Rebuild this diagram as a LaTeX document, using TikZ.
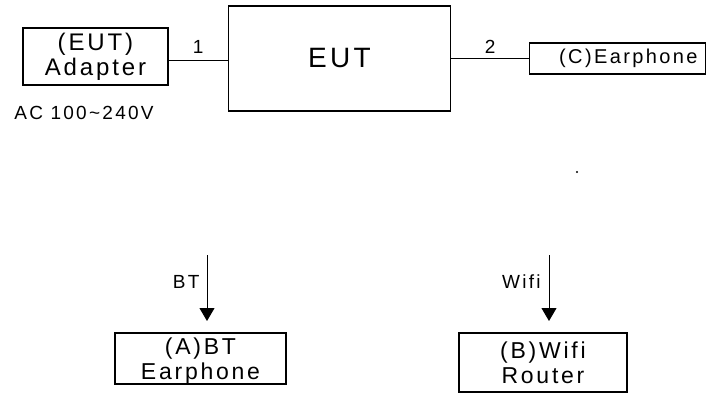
\documentclass[tikz,border=0pt]{standalone}
\usepackage{fontspec}
\setmainfont{Liberation Sans}[LetterSpace=12]
\usetikzlibrary{arrows.meta}

\begin{document}
\begin{tikzpicture}[x=1pt, y=-1pt, >={Triangle[width=15pt,length=13pt]},
  box/.style={draw, line width=1.3pt, inner sep=0pt, align=center},
  wire/.style={line width=0.9pt},
  tag/.style={inner sep=0pt, font=\fontsize{19}{21}\selectfont}]

  \useasboundingbox (0,0) rectangle (706,394);

  % top row
  \node[box, minimum width=145, minimum height=57, font=\fontsize{24}{25}\selectfont]
    (adapter) at (95.5,56.5) {(EUT)\\Adapter};
  \node[box, minimum width=222, minimum height=105, font=\fontsize{28}{30}\selectfont]
    (eut) at (339.5,58.5) {EUT};
  \node[box, anchor=west, minimum width=176, minimum height=31, text width=160,
    align=right, font=\fontsize{20}{22}\selectfont]
    (earC) at (529,58.5) {(C)Earphone};
  \node[tag] (mains) at (84,113) {AC 100\textasciitilde240V};

  \draw[wire] (adapter.east |- 0,60.5) -- node[tag, above=7pt] {1} (eut.west |- 0,60.5);
  \draw[wire] (eut.east |- earC.west) -- node[tag, above=5pt] {2} (earC.west);

  \fill (577,172) circle (1.2pt);

  % wireless links
  \node[box, minimum width=171, minimum height=51, font=\fontsize{23}{25}\selectfont]
    (earA) at (200.5,358.5) {(A)BT\\\raisebox{0pt}[\height][0pt]{Earphone}};
  \node[box, minimum width=168, minimum height=59, font=\fontsize{23}{25}\selectfont]
    (router) at (543,362.5) {(B)Wifi\\Router};

  \coordinate (btS) at (207,255);
  \coordinate (btE) at (207,321);
  \coordinate (wifiS) at (549,255);
  \coordinate (wifiE) at (549,321);

  \draw[wire, ->] (btS) -- node[tag, left=7pt, pos=0.41] {BT} (btE);
  \draw[wire, ->] (wifiS) -- node[tag, left=8pt, pos=0.41] {Wifi} (wifiE);

\end{tikzpicture}
\end{document}
